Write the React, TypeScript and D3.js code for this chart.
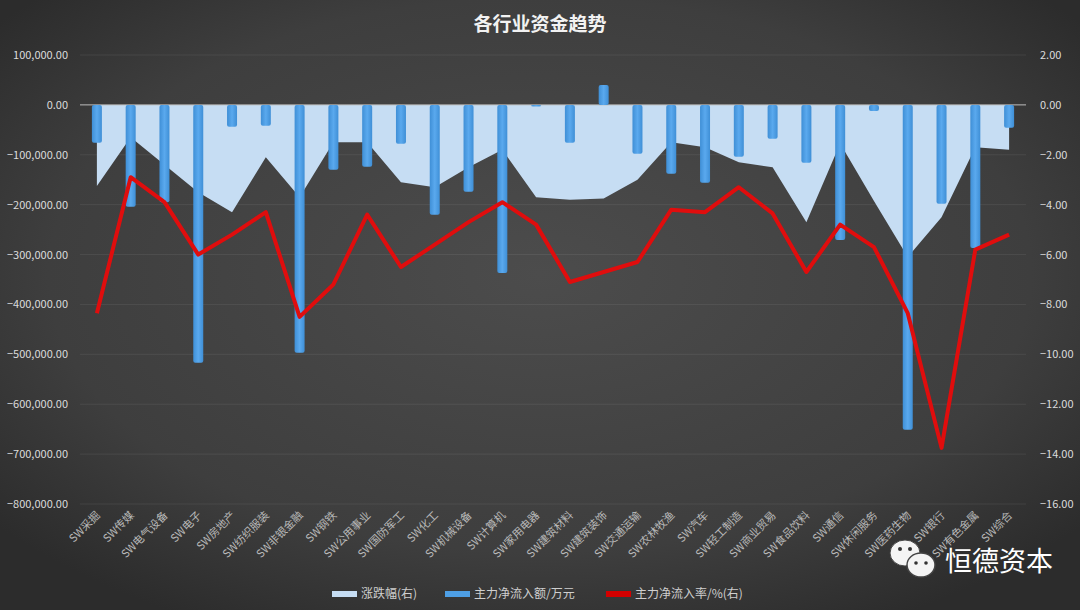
import React from "react";
import * as d3 from "d3";

const categories = [
  "SW采掘", "SW传媒", "SW电气设备", "SW电子", "SW房地产", "SW纺织服装", "SW非银金融",
  "SW钢铁", "SW公用事业", "SW国防军工", "SW化工", "SW机械设备", "SW计算机", "SW家用电器",
  "SW建筑材料", "SW建筑装饰", "SW交通运输", "SW农林牧渔", "SW汽车", "SW轻工制造",
  "SW商业贸易", "SW食品饮料", "SW通信", "SW休闲服务", "SW医药生物", "SW银行",
  "SW有色金属", "SW综合",
];

// 主力净流入额/万元 (left axis)
const netInflow = [
  -76000, -204000, -195000, -517000, -44000, -42000, -497000,
  -130000, -124000, -78000, -220000, -174000, -337000, -3000,
  -76000, 40000, -98000, -138000, -156000, -104000,
  -68000, -116000, -271000, -12000, -651000, -198000,
  -287000, -46000,
];

// 涨跌幅(右)
const pctChange = [
  -3.25, -1.3, -2.4, -3.5, -4.3, -2.1, -3.7,
  -1.5, -1.5, -3.1, -3.3, -2.5, -1.8, -3.7,
  -3.8, -3.75, -3.0, -1.5, -1.7, -2.3,
  -2.5, -4.7, -1.55, -3.85, -6.1, -4.5,
  -1.7, -1.8,
];

// 主力净流入率/%(右)
const inflowRate = [
  -8.35, -2.9, -3.9, -6.0, -5.2, -4.3, -8.5,
  -7.2, -4.4, -6.5, -5.6, -4.7, -3.9, -4.8,
  -7.1, -6.7, -6.3, -4.2, -4.3, -3.3,
  -4.35, -6.7, -4.8, -5.7, -8.35, -13.75,
  -5.8, -5.2,
];

const leftTicks = [100000, 0, -100000, -200000, -300000, -400000, -500000, -600000, -700000, -800000];
const rightTicks = [2, 0, -2, -4, -6, -8, -10, -12, -14, -16];

const legendItems = ["涨跌幅(右)", "主力净流入额/万元", "主力净流入率/%(右)"];
const title = "各行业资金趋势";

export default function App() {
  const W = 1080, H = 610;
  const left = 80, right = 1026, top = 55, bottom = 504;
  const x = d3.scaleBand<string>().domain(categories).range([left, right]).padding(0);
  const yL = d3.scaleLinear().domain([-800000, 100000]).range([bottom, top]);
  const yR = d3.scaleLinear().domain([-16, 2]).range([bottom, top]);
  const cx = (i: number) => (x(categories[i]) as number) + x.bandwidth() / 2;
  const barW = 10;

  const area = d3.area<number>()
    .x((_, i) => cx(i))
    .y0(() => yR(0))
    .y1((d) => yR(d));
  const line = d3.line<number>().x((_, i) => cx(i)).y((d) => yR(d));

  const fmtL = d3.format(",.2f");
  const fmtR = d3.format(".2f");
  const font = "'Microsoft YaHei','Noto Sans CJK SC','Noto Sans',sans-serif";

  return (
    <svg width={W} height={H} style={{ position: "absolute", left: 0, top: 0 }} fontFamily={font}>
      <defs>
        <radialGradient id="bg" cx="50%" cy="45%" r="65%">
          <stop offset="0%" stopColor="#4c4c4c" />
          <stop offset="70%" stopColor="#3e3e3e" />
          <stop offset="100%" stopColor="#2c2c2c" />
        </radialGradient>
        <linearGradient id="barG" x1="0" x2="1" y1="0" y2="0">
          <stop offset="0%" stopColor="#3f8fd6" />
          <stop offset="50%" stopColor="#5aa9ee" />
          <stop offset="100%" stopColor="#3f8fd6" />
        </linearGradient>
      </defs>
      <rect x={0} y={0} width={W} height={H} fill="url(#bg)" />

      <text x={540} y={31} textAnchor="middle" fill="#f2f2f2" fontSize={19} fontWeight="bold">{title}</text>

      {leftTicks.map((t) => (
        <g key={"g" + t}>
          {t !== 0 && (
            <line x1={left} x2={right} y1={yL(t)} y2={yL(t)} stroke="#ffffff" strokeOpacity={0.07} />
          )}
          <text x={68} y={yL(t) + 4} textAnchor="end" fill="#dcdcdc" fontSize={11}>{fmtL(t)}</text>
        </g>
      ))}
      {rightTicks.map((t) => (
        <text key={"r" + t} x={1040} y={yR(t) + 4} textAnchor="start" fill="#dcdcdc" fontSize={11}>{fmtR(t)}</text>
      ))}

      <path d={area(pctChange) || ""} fill="#c6ddf3" />
      <line x1={left} x2={right} y1={yL(0)} y2={yL(0)} stroke="#bdbdbd" strokeWidth={1} />

      {netInflow.map((v, i) => {
        const y0 = yL(0), y1 = yL(v);
        return (
          <rect key={"b" + i} x={cx(i) - barW / 2} y={Math.min(y0, y1)} width={barW}
            height={Math.max(1.5, Math.abs(y1 - y0))} fill="url(#barG)" rx={2} />
        );
      })}

      <path d={line(inflowRate) || ""} fill="none" stroke="#e00d0d" strokeWidth={4} strokeLinejoin="round" />

      {categories.map((c, i) => (
        <text key={"x" + i} transform={`translate(${cx(i) + 4},${516}) rotate(-45)`} textAnchor="end"
          fill="#b8b8b8" fontSize={11}>{c}</text>
      ))}

      {legendItems.map((l, i) => {
        const lx = [332, 445, 606][i];
        const col = ["#c6ddf3", "#4e9fe5", "#d40000"][i];
        return (
          <g key={"l" + i}>
            <rect x={lx} y={591} width={25} height={6} fill={col} />
            <text x={lx + 29} y={598} fill="#cfcfcf" fontSize={12}>{l}</text>
          </g>
        );
      })}

      <g>
        <ellipse cx={905} cy={553} rx={15} ry={13} fill="#f4f4f4" stroke="#444" strokeWidth={1} />
        <ellipse cx={921} cy={565} rx={14} ry={12} fill="#f4f4f4" stroke="#444" strokeWidth={1.5} />
        <circle cx={900} cy={549} r={2} fill="#333" />
        <circle cx={910} cy={549} r={2} fill="#333" />
        <circle cx={916} cy={563} r={1.8} fill="#333" />
        <circle cx={926} cy={563} r={1.8} fill="#333" />
        <text x={945} y={571} fill="#ffffff" fontSize={27}>恒德资本</text>
      </g>
    </svg>
  );
}
